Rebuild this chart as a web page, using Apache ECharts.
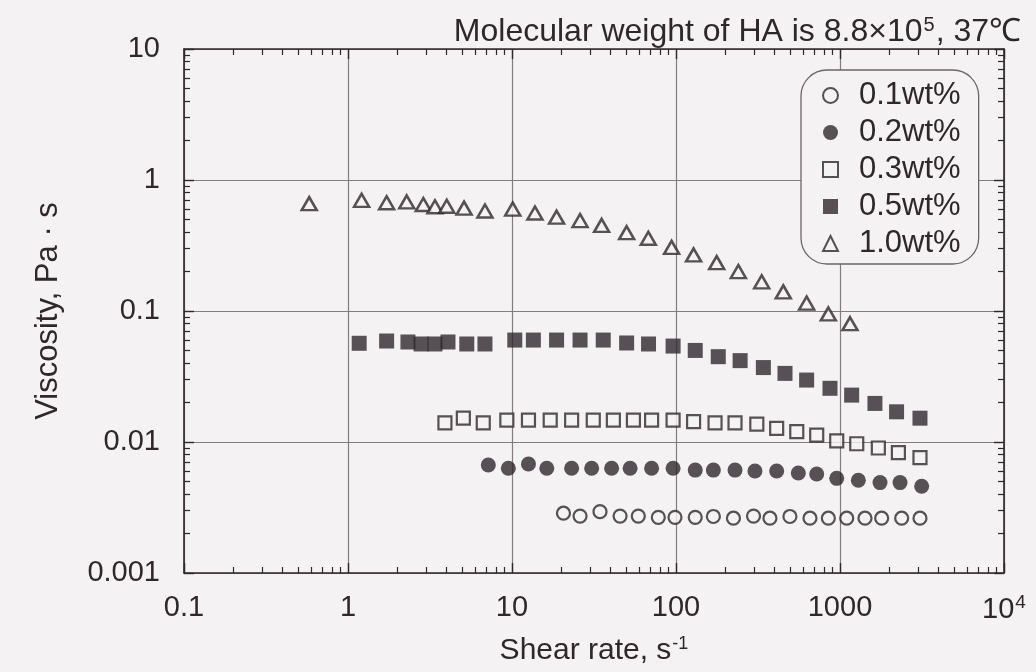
<!DOCTYPE html>
<html>
<head>
<meta charset="utf-8">
<script src="https://cdn.jsdelivr.net/npm/echarts@6/dist/echarts.min.js"></script>
<style>
  html, body { margin: 0; padding: 0; background: #f4f2f3; }
  #chart { width: 1036px; height: 672px; }
</style>
</head>
<body>
<div id="chart"></div>
<script>
// Viscosity of hyaluronic acid solutions vs. shear rate, by concentration
const seriesNames = ['0.1wt%', '0.2wt%', '0.3wt%', '0.5wt%', '1.0wt%'];

// [shear rate (1/s), viscosity (Pa·s)]
const conc01 = [[20.6,0.00286],[26,0.00272],[34.4,0.00294],[45.6,0.00272],[58.9,0.00272],[78,0.00266],[98.6,0.00266],[131,0.00266],[169,0.0027],[224,0.00262],[297,0.00272],[374,0.00262],[495,0.0027],[656,0.00262],[849,0.00262],[1099,0.00262],[1420,0.00262],[1795,0.00262],[2377,0.00262],[3074,0.00262]];
const conc02 = [[7.17,0.00667],[9.5,0.0063],[12.6,0.0068],[16.3,0.0063],[23.1,0.0063],[30.6,0.0063],[40.5,0.0063],[52.5,0.0063],[71,0.0063],[96,0.0063],[131,0.0061],[169,0.0061],[229,0.0061],[303,0.006],[411,0.006],[557,0.0058],[721,0.0057],[955,0.00528],[1294,0.0051],[1754,0.0049],[2323,0.0049],[3148,0.0046]];
const conc03 = [[3.9,0.014],[5.05,0.0152],[6.68,0.014],[9.3,0.0147],[12.6,0.0147],[17.1,0.0147],[23.1,0.0147],[31.3,0.0147],[41.5,0.0147],[55,0.0147],[71,0.0147],[96,0.0147],[128,0.0143],[173,0.014],[229,0.014],[311,0.0137],[411,0.0127],[545,0.012],[721,0.0113],[955,0.0102],[1265,0.0097],[1713,0.009],[2270,0.0083],[3074,0.0076]];
const conc05 = [[1.17,0.0567],[1.72,0.059],[2.32,0.058],[2.79,0.056],[3.39,0.056],[4.07,0.058],[5.3,0.056],[6.84,0.056],[10.4,0.06],[13.5,0.06],[18.7,0.06],[26,0.06],[36,0.06],[50,0.057],[68,0.056],[96,0.054],[131,0.05],[181,0.0448],[246,0.0418],[341,0.037],[462,0.0334],[626,0.0297],[869,0.0257],[1178,0.0228],[1633,0.0197],[2213,0.017],[3074,0.0152]];
const conc10 = [[0.58,0.66],[1.21,0.7],[1.72,0.67],[2.28,0.68],[2.88,0.65],[3.39,0.625],[4.0,0.63],[5.1,0.61],[6.84,0.58],[10.1,0.6],[13.8,0.56],[18.7,0.52],[26,0.49],[35.2,0.45],[50,0.396],[67.8,0.359],[94,0.306],[128,0.268],[177,0.234],[240,0.2],[333,0.167],[451,0.14],[626,0.115],[849,0.095],[1151,0.08]];

// axis ranges and tick labels (one label per decade)
const xRange = [0.1, 10000];
const yRange = [0.001, 10];
const xTickLabels = ['0.1', '1', '10', '100', '1000', '10{sup|4}'];
const yTickLabels = ['0.001', '0.01', '0.1', '1', '10'];

const ink = '#30272c';
const paper = '#f4f2f3';
const gridGray = '#857c81';
const font = 'Liberation Sans';

// 2..9 × 10^n minor tick positions inside a log range
function minorTicks(lo, hi) {
  const out = [];
  for (let d = Math.round(Math.log10(lo)); d < Math.round(Math.log10(hi)); d++) {
    for (let k = 2; k <= 9; k++) out.push(+(k * Math.pow(10, d)).toPrecision(3));
  }
  return out;
}

function labelFor(list, lo) {
  return v => list[Math.round(Math.log10(v) - Math.log10(lo))] || '';
}

const richSup = {
  sup: { fontSize: 19, fontFamily: font, color: ink, verticalAlign: 'top', padding: [0, 0, 14, 1] }
};

function majorAxis(pos, range, labels, dir) {
  const isX = dir === 'x';
  const showLabels = pos === 'bottom' || pos === 'left';
  return {
    type: 'log', logBase: 10, position: pos, min: range[0], max: range[1],
    axisLine: { show: true, lineStyle: { color: ink, width: 1.6 } },
    axisTick: { show: true, inside: true, length: 10, lineStyle: { color: ink, width: 1.4 } },
    axisLabel: showLabels ? {
      show: true, fontFamily: font, fontSize: 29, color: ink,
      margin: isX ? 20 : 24,
      formatter: labelFor(labels, range[0]),
      rich: richSup
    } : { show: false },
    splitLine: { show: showLabels, lineStyle: { color: gridGray, width: 1.2 } },
    minorTick: { show: false }
  };
}

function minorAxis(pos, range) {
  return {
    type: 'log', logBase: 10, position: pos, min: range[0], max: range[1],
    axisLine: { show: false },
    axisTick: { show: true, inside: true, length: 6, customValues: minorTicks(range[0], range[1]),
                lineStyle: { color: ink, width: 1.2 } },
    axisLabel: { show: false },
    splitLine: { show: false }
  };
}

const xAxes = [majorAxis('bottom', xRange, xTickLabels, 'x'), minorAxis('bottom', xRange),
               majorAxis('top', xRange, xTickLabels, 'x'), minorAxis('top', xRange)];
xAxes[0].name = 'Shear rate, s{sup|-1}';
xAxes[0].nameLocation = 'middle';
xAxes[0].nameGap = 62;
xAxes[0].nameTextStyle = { fontFamily: font, fontSize: 30, color: ink,
  rich: { sup: { fontSize: 18, fontFamily: font, color: ink, verticalAlign: 'top', padding: [0, 0, 14, 1] } } };

const yAxes = [majorAxis('left', yRange, yTickLabels, 'y'), minorAxis('left', yRange),
               majorAxis('right', yRange, yTickLabels, 'y'), minorAxis('right', yRange)];
yAxes[0].name = 'Viscosity, Pa · s';
yAxes[0].nameLocation = 'middle';
yAxes[0].nameGap = 120;
yAxes[0].nameTextStyle = { fontFamily: font, fontSize: 31, color: ink };

const styles = [
  { symbol: 'circle', size: 13, item: { color: paper, borderColor: ink, borderWidth: 2.2 } },
  { symbol: 'circle', size: 15, item: { color: ink, borderColor: ink, borderWidth: 0 } },
  { symbol: 'rect', size: 13, item: { color: paper, borderColor: ink, borderWidth: 2.2 } },
  { symbol: 'rect', size: 15, item: { color: ink, borderColor: ink, borderWidth: 0 } },
  { symbol: 'triangle', size: [15, 13], item: { color: paper, borderColor: ink, borderWidth: 2.5 } }
];
const datasets = [conc01, conc02, conc03, conc05, conc10];

const chart = echarts.init(document.getElementById('chart'), null, { renderer: 'canvas' });
chart.setOption({
  backgroundColor: paper,
  animation: false,
  textStyle: { fontFamily: font },
  title: {
    text: 'Molecular weight of HA is 8.8×10{sup|5}, 37℃',
    right: 10, top: 10,
    textStyle: { fontFamily: font, fontSize: 32, fontWeight: 'normal', color: ink,
                 rich: { sup: { fontSize: 20, fontFamily: font, color: ink, verticalAlign: 'top', padding: [0, 1, 14, 1] } } }
  },
  grid: { left: 184, right: 32, top: 49, bottom: 99 },
  legend: {
    orient: 'vertical', left: 801, top: 70,
    padding: [10, 18, 5, 21],
    itemWidth: 15, itemHeight: 15, itemGap: 6,
    backgroundColor: paper, borderColor: '#6e656a', borderWidth: 1.3, borderRadius: 26,
    textStyle: { fontFamily: font, fontSize: 31, color: ink, padding: [0, 0, 0, 16] },
    data: seriesNames
  },
  xAxis: xAxes,
  yAxis: yAxes,
  series: datasets.map((d, i) => ({
    name: seriesNames[i], type: 'scatter', xAxisIndex: 0, yAxisIndex: 0,
    symbol: styles[i].symbol, symbolSize: styles[i].size,
    itemStyle: styles[i].item,
    data: d
  }))
});
</script>
</body>
</html>
